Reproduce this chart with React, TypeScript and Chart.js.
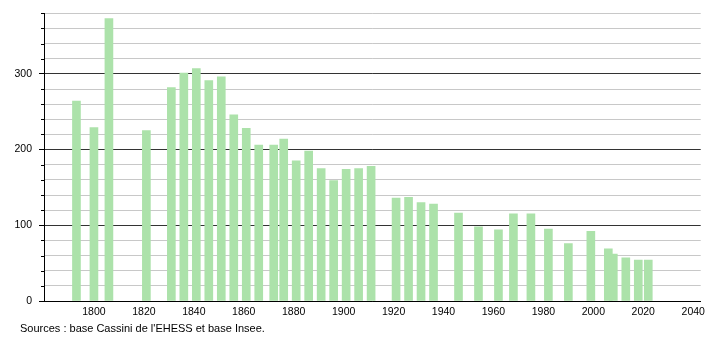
import React, { useEffect, useRef } from "react";
import { Chart, registerables } from "chart.js";

Chart.register(...registerables);

const years = [1793, 1800, 1806, 1821, 1831, 1836, 1841, 1846, 1851, 1856, 1861, 1866, 1872, 1876, 1881, 1886, 1891, 1896, 1901, 1906, 1911, 1921, 1926, 1931, 1936, 1946, 1954, 1962, 1968, 1975, 1982, 1990, 1999, 2006, 2008, 2013, 2018, 2022];
const population = [264, 229, 373, 225, 282, 301, 307, 291, 296, 246, 228, 206, 206, 214, 185, 198, 175, 159, 174, 175, 178, 136, 137, 130, 128, 116, 98, 94, 115, 115, 95, 76, 92, 69, 62, 57, 54, 54];
const xTickLabels = [1800, 1820, 1840, 1860, 1880, 1900, 1920, 1940, 1960, 1980, 2000, 2020, 2040];
const yGridValues = [0, 20, 40, 60, 80, 100, 120, 140, 160, 180, 200, 220, 240, 260, 280, 300, 320, 340, 360, 380];
const yTickLabels = [0, 100, 200, 300];
const sourceText = "Sources : base Cassini de l'EHESS et base Insee.";

const FONT = "'Liberation Sans', Arial, Helvetica, sans-serif";

const minorTicks = {
  id: "minorTicks",
  afterDraw(chart: any) {
    const y = chart.scales.y;
    const ctx = chart.ctx;
    ctx.save();
    ctx.strokeStyle = "#000";
    ctx.lineWidth = 1;
    y.ticks.forEach((t: any) => {
      if (t.value % 100 !== 0) {
        const py = Math.round(y.getPixelForValue(t.value)) + 0.5;
        ctx.beginPath();
        ctx.moveTo(y.right - 3, py);
        ctx.lineTo(y.right, py);
        ctx.stroke();
      }
    });
    ctx.restore();
  },
};

export default function App() {
  const ref = useRef<HTMLCanvasElement | null>(null);
  useEffect(() => {
    document.body.style.margin = "0";
    if (!ref.current) return;
    const chart = new Chart(ref.current, {
      type: "bar",
      data: {
        datasets: [
          {
            data: years.map((yr, i) => ({ x: yr, y: population[i] })),
            backgroundColor: "rgb(172,226,170)",
            borderWidth: 0,
            barThickness: 8,
          },
        ],
      },
      options: {
        animation: false,
        responsive: false,
        layout: { padding: { top: 7, right: 9, bottom: 0, left: 0 } },
        plugins: { legend: { display: false }, tooltip: { enabled: false } },
        scales: {
          x: {
            type: "linear",
            offset: false,
            min: 1780,
            max: 2043,
            afterFit: (s: any) => {
              s.height = 39;
            },
            afterBuildTicks: (s: any) => {
              s.ticks = xTickLabels.map((v) => ({ value: v }));
            },
            ticks: {
              padding: 5,
              color: "#000",
              font: { family: FONT, size: 10.5 },
              maxRotation: 0,
              autoSkip: false,
              callback: (v: any) => String(v),
            },
            grid: { display: false, drawTicks: false, offset: false },
            border: { display: true, color: "#000", width: 1 },
          },
          y: {
            min: 0,
            max: 380,
            afterFit: (s: any) => {
              s.width = 44;
            },
            afterBuildTicks: (s: any) => {
              s.ticks = yGridValues.map((v) => ({ value: v }));
            },
            ticks: {
              padding: 7,
              color: "#000",
              autoSkip: false,
              font: { family: FONT, size: 10.5 },
              callback: (v: any) => (yTickLabels.includes(Number(v)) ? String(v) : ""),
            },
            grid: {
              color: (c: any) => (c.tick && c.tick.value % 100 === 0 ? "#333" : "#c8c8c8"),
              tickColor: (c: any) => (c.tick && c.tick.value % 100 === 0 ? "#000" : "rgba(0,0,0,0)"),
              tickLength: 5,
              lineWidth: 1,
            },
            border: { display: true, color: "#000", width: 1 },
          },
        },
      },
      plugins: [minorTicks],
    });
    return () => chart.destroy();
  }, []);
  return (
    <div style={{ position: "relative", width: 710, height: 340, background: "#fff" }}>
      <canvas ref={ref} width={710} height={340} style={{ display: "block" }} />
      <div
        style={{
          position: "absolute",
          left: 20,
          top: 322,
          fontFamily: FONT,
          fontSize: 11,
          color: "#000",
          whiteSpace: "nowrap",
        }}
      >
        {sourceText}
      </div>
    </div>
  );
}
